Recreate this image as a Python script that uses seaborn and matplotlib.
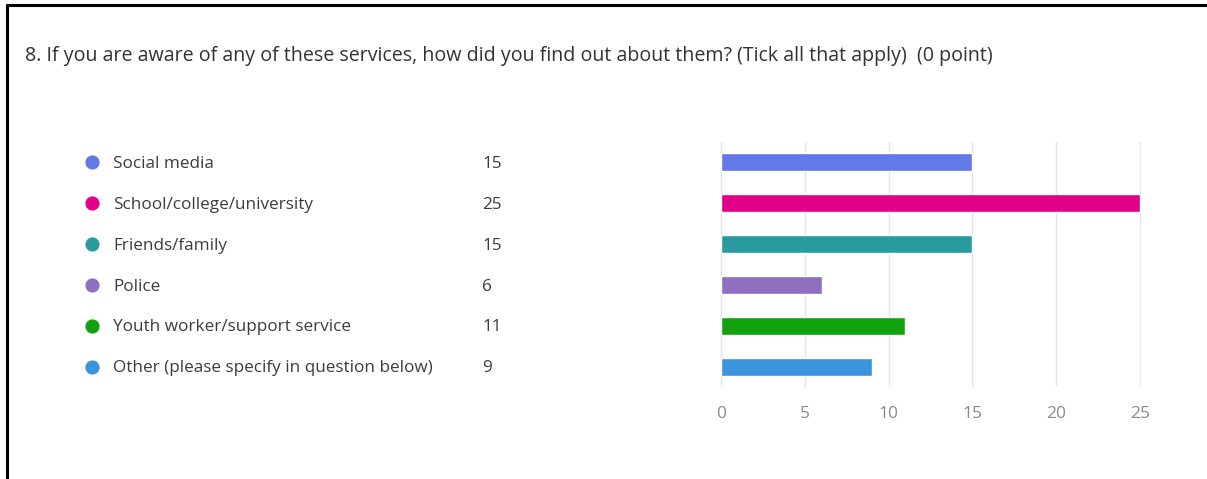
import matplotlib
matplotlib.use("Agg")
import matplotlib.pyplot as plt
import matplotlib.transforms as mtransforms
import seaborn as sns


title = "8. If you are aware of any of these services, how did you find out about them? (Tick all that apply)  (0 point)"
categories = [
    "Social media",
    "School/college/university",
    "Friends/family",
    "Police",
    "Youth worker/support service",
    "Other (please specify in question below)",
]
counts = [15, 25, 15, 6, 11, 9]
colors = ["#6379e8", "#e0008a", "#2a9c9f", "#8f6fc0", "#14a10f", "#3a95dd"]
x_ticks = [0, 5, 10, 15, 20, 25]

W, H = 1207, 479

sns.set_theme(style="white")
plt.rcParams["font.family"] = ["Open Sans", "DejaVu Sans"]

fig = plt.figure(figsize=(W / 100, H / 100), dpi=100)
fig.patch.set_facecolor("white")

# bar axes: x=0 at 721px, x=25 at 1140px; grid from y=141 to y=386
pad = 0.06
ppu = (1140 - 721) / 25
left_px, right_px = 721 - pad * ppu, 1140 + pad * ppu
ax = fig.add_axes([left_px / W, 1 - 387 / H, (right_px - left_px) / W, (387 - 142) / H])
sns.barplot(x=counts, y=categories, hue=categories, palette=colors,
            orient="h", width=0.44, legend=False, saturation=1, ax=ax)
ax.set_xlim(-pad, 25 + pad)
ax.set_ylim(5.5, -0.5)
ax.set_xticks(x_ticks)
ax.set_xticklabels([str(t) for t in x_ticks])
ax.set_yticks([])
ax.set_xlabel("")
ax.set_ylabel("")
ax.grid(axis="x", color="#e4e4e4", linewidth=1)
ax.set_axisbelow(True)
for s in ax.spines.values():
    s.set_visible(False)
ax.tick_params(axis="x", length=0, pad=14, labelsize=12.5, labelcolor="#8a8a8a")

# legend-like list on the left, aligned with bar rows
trans = mtransforms.blended_transform_factory(fig.transFigure, ax.transData)
for i, (cat, n, c) in enumerate(zip(categories, counts, colors)):
    ax.scatter([92 / W], [i], s=85, color=c, transform=trans, clip_on=False, zorder=5)
    ax.text(113 / W, i + 0.04, cat, transform=trans, va="center", ha="left",
            fontsize=12.3, color="#3c3c3c")
    ax.text(482 / W, i + 0.04, str(n), transform=trans, va="center", ha="left",
            fontsize=12.3, color="#3c3c3c")

fig.text(25 / W, 1 - 56 / H, title, ha="left", va="center", fontsize=14.1, color="#333333")

# screenshot frame
fig.add_artist(plt.Line2D([7 / W, 1], [1 - 5 / H, 1 - 5 / H], color="black", lw=2.2))
fig.add_artist(plt.Line2D([7 / W, 7 / W], [0, 1 - 5 / H], color="black", lw=2.2))

fig.savefig("out.png", dpi=100, facecolor="white")
